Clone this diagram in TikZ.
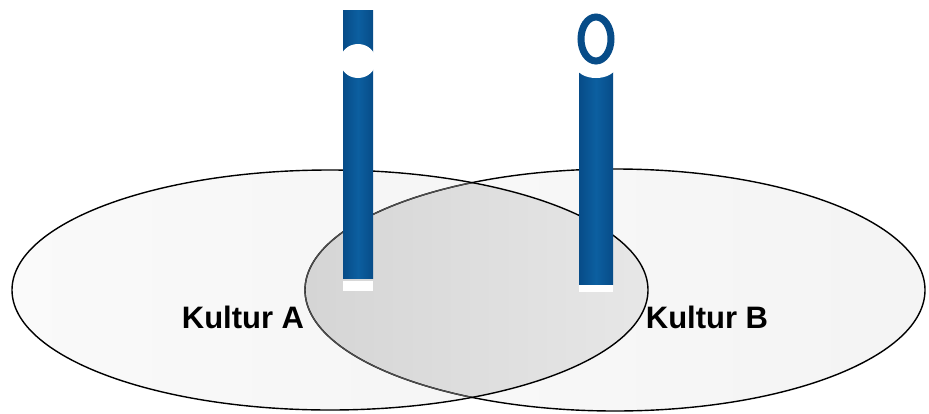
\documentclass[tikz,border=0pt]{standalone}
\usepackage{fontspec}
\setmainfont{Liberation Sans}
\begin{document}
\begin{tikzpicture}[x=1pt,y=-1pt]
\definecolor{barblue}{HTML}{0C5FA0}
\definecolor{bardark}{HTML}{074C88}
\tikzset{
 ellfill/.style={left color=gray!4, right color=gray!9},
 lensfill/.style={left color=gray!33, right color=gray!19},
 outline/.style={draw=black, line width=1.4pt},
 inner/.style={draw=gray!60!black, line width=1.3pt},
 bar/.style={left color=bardark, right color=bardark, middle color=barblue},
 label/.style={font=\fontsize{31}{32}\selectfont\bfseries, text=black, inner sep=0pt}
}
\useasboundingbox (0,0) rectangle (929,413);
\fill[white] (0,0) rectangle (929,413);
% ellipses
\path[ellfill] (615,290) ellipse [x radius=310pt, y radius=121pt];
\path[ellfill] (330,290) ellipse [x radius=318pt, y radius=120pt];
\begin{scope}
 \clip (330,290) ellipse [x radius=318pt, y radius=120pt];
 \clip (615,290) ellipse [x radius=310pt, y radius=121pt];
 \shade[lensfill] (305,160) rectangle (648,420);
\end{scope}
\draw[outline] (615,290) ellipse [x radius=310pt, y radius=121pt];
\begin{scope}
 \clip (330,290) ellipse [x radius=318pt, y radius=120pt];
 \draw[inner] (615,290) ellipse [x radius=310pt, y radius=121pt];
\end{scope}
\draw[outline] (330,290) ellipse [x radius=318pt, y radius=120pt];
% left bar
\path[bar] (343,10) rectangle (373,278);
\fill[white] (358,61) ellipse [x radius=18pt, y radius=17pt];
\fill[white] (343,281) rectangle (373,291);
% right bar
\path[bar] (579,72) rectangle (613,284);
\fill[white] (596,66) ellipse [x radius=20pt, y radius=12pt];
\draw[draw=bardark, line width=7pt] (596,39) ellipse [x radius=15pt, y radius=22pt];
\fill[white] (579,285) rectangle (613,292);
% labels
\node[label] (ka) at (243,317) {Kultur A};
\node[label] (kb) at (707,317) {Kultur B};
\end{tikzpicture}
\end{document}
